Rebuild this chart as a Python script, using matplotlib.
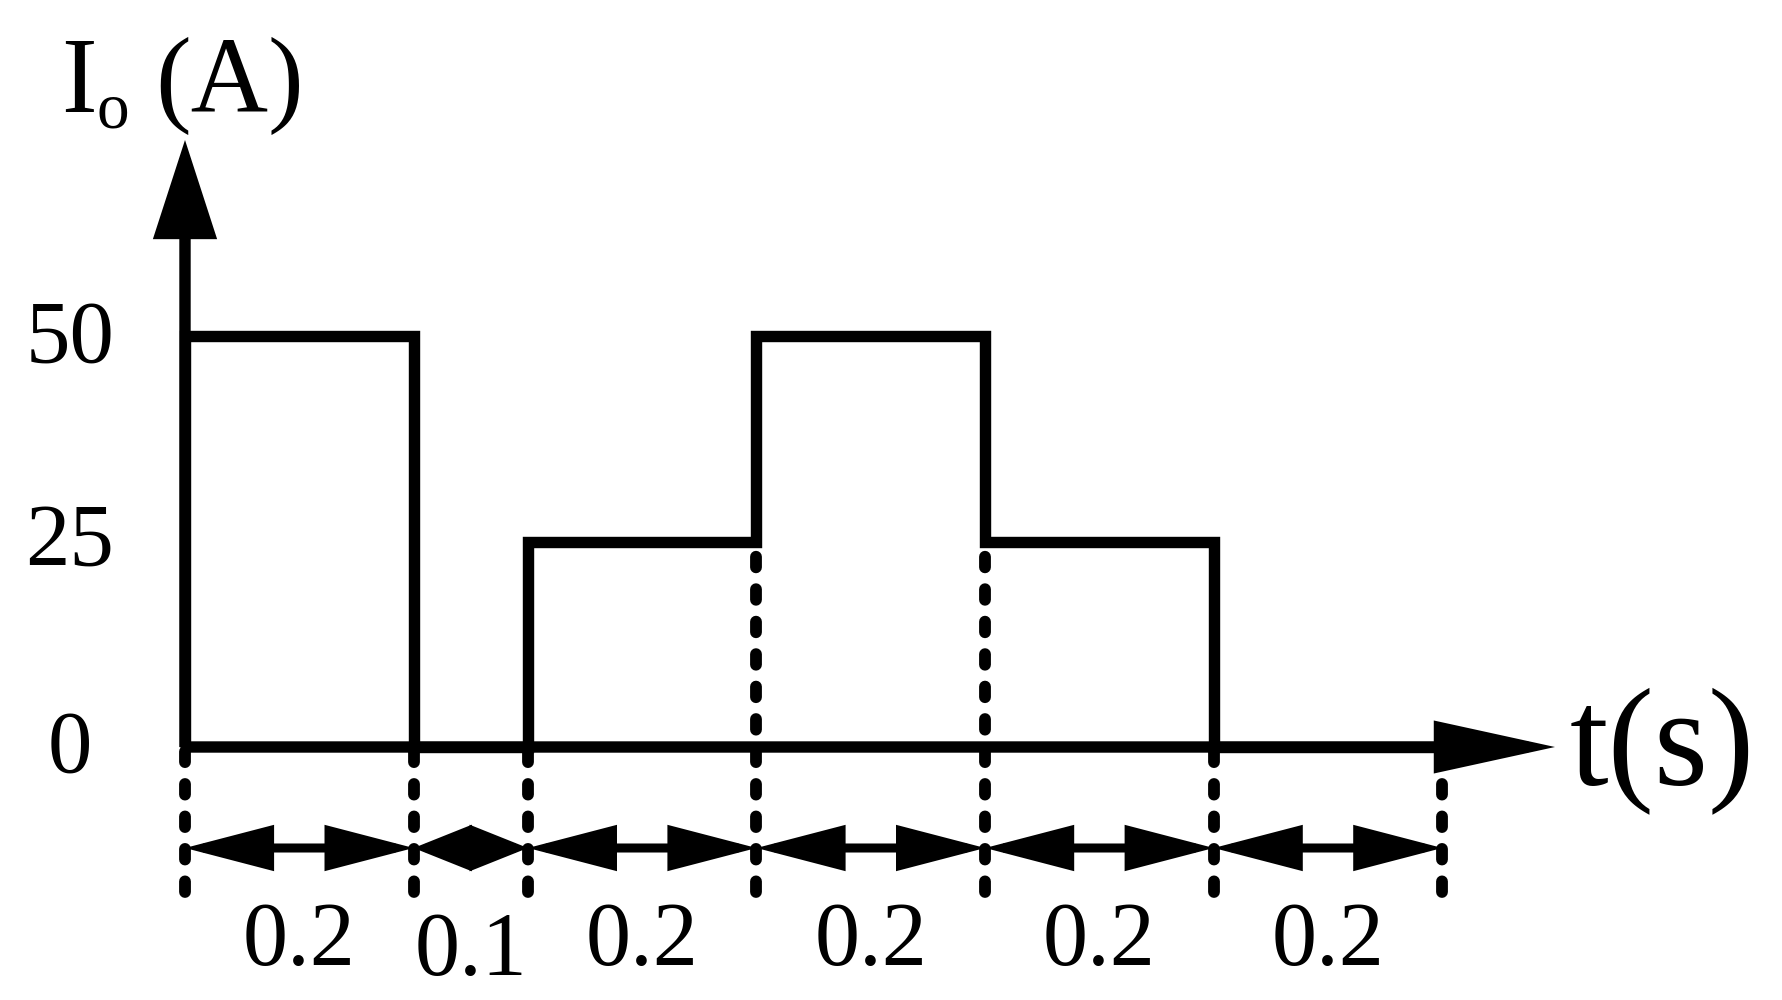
import numpy as np
import matplotlib
matplotlib.use("Agg")
import matplotlib.pyplot as plt

# waveform data
durations = [0.2, 0.1, 0.2, 0.2, 0.2, 0.2]
currents = [50, 0, 25, 50, 25, 0]
duration_labels = ["0.2", "0.1", "0.2", "0.2", "0.2", "0.2"]
yticks = [0, 25, 50]
ytick_labels = ["0", "25", "50"]

W, H = 1783, 1000
X0, SX = 185, 1143.0   # pixel of t=0, pixels per second
Y0, SY = 747, 8.22     # pixel of I=0, pixels per ampere


def px_x(px):
    return (px - X0) / SX


def px_y(py):
    return (Y0 - py) / SY


plt.rcParams['font.family'] = ['Liberation Serif', 'DejaVu Serif']

fig = plt.figure(figsize=(W / 100, H / 100), dpi=100)
ax = fig.add_axes([0, 0, 1, 1])
ax.set_xlim(px_x(0), px_x(W))
ax.set_ylim(px_y(H), px_y(0))
ax.axis('off')

LW = 8.2
edges = np.concatenate([[0], np.cumsum(durations)])

# current waveform
ax.stairs(currents, edges, baseline=0, color='black', lw=LW, zorder=3,
          joinstyle='miter')


def arrow(xy, xytext, style, lw):
    ax.annotate('', xy=xy, xytext=xytext,
                arrowprops=dict(arrowstyle=style, mutation_scale=1, lw=lw,
                                color='black', shrinkA=0, shrinkB=0,
                                joinstyle='miter', capstyle='butt'),
                zorder=4)


# axes with arrows
arrow((0, px_y(140)), (0, 0), '-|>,head_length=54,head_width=17.5', LW)
arrow((px_x(1555), 0), (0, 0), '-|>,head_length=64,head_width=14', LW)

# dashed boundary markers
y_bottom = px_y(892)
padded = [0] + currents + [0]
tops = [min(padded[i], padded[i + 1]) for i in range(len(edges))]
vl = ax.vlines(edges, y_bottom, tops, colors='black', lw=8.5,
               linestyles=[(0, (0.9, 1.85))], zorder=2)
vl.set_capstyle('round')

# dimension arrows and labels
y_dim = px_y(848)
for i, d in enumerate(durations):
    if d < 0.15:
        style = '<|-|>,head_length=30,head_width=12'
        base = 975
    else:
        style = '<|-|>,head_length=48,head_width=12.5'
        base = 965
    arrow((edges[i + 1], y_dim), (edges[i], y_dim), style, 6.5)
    ax.text((edges[i] + edges[i + 1]) / 2, px_y(base), duration_labels[i],
            ha='center', va='baseline', fontsize=65)

# y tick labels
tick_base = {0: 772, 25: 565, 50: 362}
for v, lab in zip(yticks, ytick_labels):
    ax.text(px_x(70), px_y(tick_base[v]), lab, ha='center', va='baseline',
            fontsize=64)

# axis titles
fig.text(61 / W, 1 - 112 / H, "I", ha='left', va='baseline', fontsize=77)
fig.text(97 / W, 1 - 127 / H, "o", ha='left', va='baseline', fontsize=47)
fig.text(155 / W, 1 - 112 / H, "(A)", ha='left', va='baseline', fontsize=77)
fig.text(1570 / W, 1 - 785 / H, "t(s)", ha='left', va='baseline', fontsize=100)

fig.savefig('out.png', dpi=100, facecolor='white')
